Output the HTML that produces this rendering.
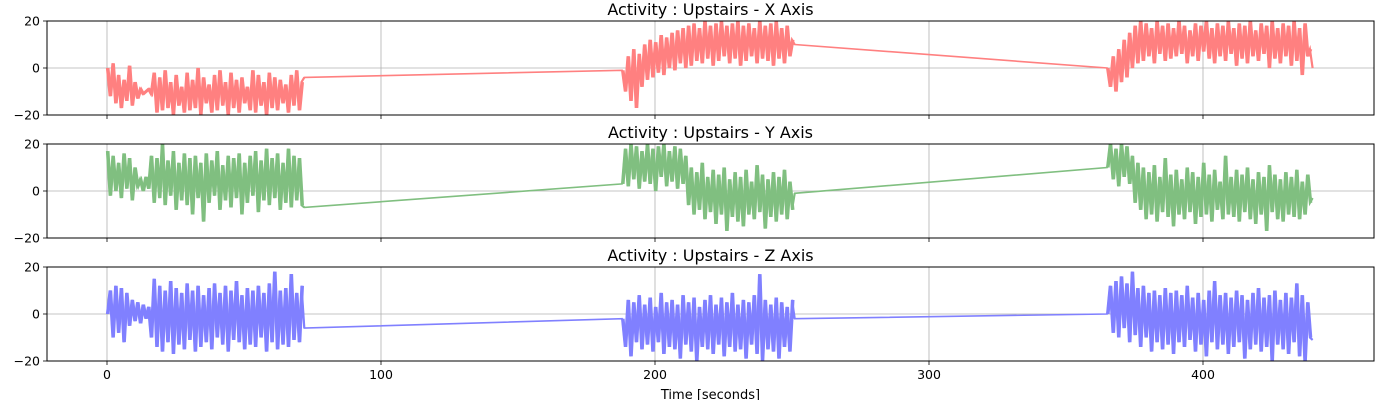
<!DOCTYPE html>
<html><head><meta charset="utf-8"><style>
body{margin:0;background:#fff;width:1400px;height:400px;overflow:hidden;font-family:"Liberation Sans","DejaVu Sans",sans-serif}
svg text{font-family:"DejaVu Sans","Liberation Sans",sans-serif}
</style></head><body>
<svg id="chart" width="1400" height="400" xmlns="http://www.w3.org/2000/svg"></svg>
<script>
const xTicks=[0,100,200,300,400];
const yTicks=[20,0,-20];
const segStarts=[0,188,365];
const segEnds=[72,251,440];
const titles=["Activity : Upstairs - X Axis","Activity : Upstairs - Y Axis","Activity : Upstairs - Z Axis"];
const colors=["#ff8080","#80bf80","#8080ff"];
const X1=[0,-12,2,-15,-3,-17,-5,-14,1,-16,-6,-13,-9,-11,-10,-9,-11,-2,-19,-4,-18,-1,-17,-6,-20,-3,-16,-8,-19,-2,-18,-5,-17,0,-20,-4,-15,-7,-19,-3,-18,-1,-16,-6,-20,-2,-17,-5,-19,-4,-15,-8,-18,-1,-19,-3,-16,-6,-20,-2,-17,-4,-18,-5,-15,-7,-19,-3,-16,-1,-18,-6,-4];
const X2=[-1,-10,5,-14,8,-17,6,-8,10,-5,12,-4,11,-2,14,-3,13,0,15,-1,16,2,17,0,18,1,19,3,17,2,20,4,18,1,19,3,20,5,18,2,19,4,20,1,18,3,19,5,17,2,20,4,18,3,19,1,20,4,17,2,18,5,12,10];
const X3=[0,-8,5,-10,8,-6,12,-4,15,0,18,2,20,3,19,5,17,2,20,6,18,3,19,4,17,5,20,6,18,2,16,5,19,3,18,7,20,4,17,2,19,5,18,3,20,6,17,1,19,4,18,2,20,5,16,3,19,6,18,0,20,4,17,2,19,5,18,1,20,3,17,-3,19,5,8,0];
const Y1=[17,-2,15,0,12,-3,16,1,14,-4,10,2,5,0,6,1,15,-5,14,-3,20,-6,13,-2,17,-8,12,-4,16,-6,14,-10,15,-3,12,-13,16,-5,13,-2,17,-8,11,-4,15,-7,14,-3,16,-10,12,-5,15,-2,17,-9,13,-4,18,-6,14,-3,16,-8,12,-5,18,-7,15,-4,14,-6,-7];
const Y2=[3,18,2,20,5,19,1,17,4,20,3,18,0,19,6,20,2,17,4,19,1,18,3,15,-6,10,-10,8,-8,12,-12,6,-9,9,-14,7,-10,10,-17,5,-11,8,-13,6,-15,9,-10,4,-12,11,-9,7,-16,5,-11,8,-13,6,-10,9,-12,4,-8,-1];
const Y3=[10,20,5,18,2,20,6,19,3,15,-5,12,-8,10,-12,8,-10,11,-13,6,-9,14,-11,7,-15,9,-10,5,-12,10,-9,8,-14,6,-11,12,-10,7,-13,9,-8,4,-12,15,-10,6,-11,9,-13,7,-9,10,-12,5,-14,8,-10,6,-17,11,-9,7,-12,5,-13,8,-10,6,-11,9,-12,4,-10,7,-5,-3];
const Z1=[0,10,-10,12,-8,11,-12,9,-5,6,-3,5,-4,4,-2,3,-10,15,-14,12,-16,10,-12,14,-17,11,-13,9,-15,13,-11,10,-16,12,-14,8,-12,11,-15,13,-10,9,-13,12,-16,10,-11,14,-12,8,-15,11,-13,10,-14,12,-10,9,-16,13,-12,18,-15,10,-13,11,-14,17,-11,9,-12,12,-6];
const Z2=[-2,-14,6,-18,5,-12,8,-15,4,-13,7,-16,3,-12,9,-17,5,-14,6,-15,4,-19,8,-13,5,-16,7,-20,3,-14,6,-15,8,-17,4,-13,7,-18,5,-14,9,-16,4,-15,6,-19,5,-13,8,-17,17,-20,6,-15,4,-16,7,-19,5,-14,3,-16,6,-2];
const Z3=[0,12,-8,14,-10,16,-6,13,-12,18,-9,11,-14,12,-10,9,-16,10,-12,8,-15,11,-13,9,-17,10,-12,8,-14,12,-11,7,-16,9,-13,6,-18,10,-12,14,-15,8,-13,9,-17,7,-14,10,-12,8,-19,6,-15,9,-13,11,-16,7,-14,8,-20,10,-13,6,-15,9,-17,7,-12,13,-18,8,-20,5,-10,-11];
const series=[[X1,X2,X3],[Y1,Y2,Y3],[Z1,Z2,Z3]];

const svg=document.getElementById('chart');
const NS='http://www.w3.org/2000/svg';
const L=47,R=1374,panelTops=[21,144,267],PH=94;
const xs=t=>107+(t-0)*2.74;
function mk(tag,attrs,parent){const e=document.createElementNS(NS,tag);for(const k in attrs)e.setAttribute(k,attrs[k]);(parent||svg).appendChild(e);return e;}
panelTops.forEach((top,p)=>{
  const ys=v=>top+(20-v)/40*PH;
  const g=mk('g',{});
  
  
  xTicks.forEach(t=>{const l=mk('line',{x1:xs(t),x2:xs(t),y1:top,y2:top+PH,stroke:'#b0b0b0','stroke-width':0.8},g);
    
    mk('line',{x1:xs(t),x2:xs(t),y1:top+PH,y2:top+PH+4,stroke:'#000','stroke-width':0.8},g);
    if(p===2){const tx=mk('text',{x:xs(t),y:top+PH+18,'text-anchor':'middle','font-size':12.5},g);tx.textContent=t;
      }
  });
  yTicks.forEach(v=>{
    if(v===0){const l=mk('line',{x1:L,x2:R,y1:ys(v),y2:ys(v),stroke:'#b0b0b0','stroke-width':0.8},g);}
    mk('line',{x1:L-4,x2:L,y1:ys(v),y2:ys(v),stroke:'#000','stroke-width':0.8},g);
    const tx=mk('text',{x:L-7,y:ys(v)+4.5,'text-anchor':'end','font-size':12.5},g);tx.textContent=v===-20?'\u221220':v;
    
  });
  // connectors (thin) between segments
  const segs=series[p];
  const allPts=[];
  segs.forEach((arr,s)=>{const n=arr.length;const step=(segEnds[s]-segStarts[s])/(n-1);
    const pts=[],pts2=[];
    arr.forEach((v,i)=>{const t=segStarts[s]+step*i;const P=xs(t).toFixed(1)+','+ys(v).toFixed(1);pts.push(P);allPts.push(P);
      if(i<n-1)pts2.push(xs(t+step/2).toFixed(1)+','+ys(v).toFixed(1));});
    const a=mk('polyline',{points:pts.join(' '),fill:'none',stroke:colors[p],'stroke-width':2.2},g);
    
    const b=mk('polyline',{points:pts2.join(' '),fill:'none',stroke:colors[p],'stroke-width':2.2},g);
    
  });
  const pl=mk('polyline',{points:allPts.join(' '),fill:'none',stroke:colors[p],'stroke-width':1.6},g);
  
  const fr=mk('rect',{x:L,y:top,width:R-L,height:PH,fill:'none',stroke:'#000','stroke-width':1},g);
  
  const ti=mk('text',{x:(L+R)/2,y:top-6,'text-anchor':'middle','font-size':16},g);ti.textContent=titles[p];
  
});
const xl=mk('text',{x:(L+R)/2,y:399,'text-anchor':'middle','font-size':13});xl.textContent='Time [seconds]';


</script>
</body></html>
